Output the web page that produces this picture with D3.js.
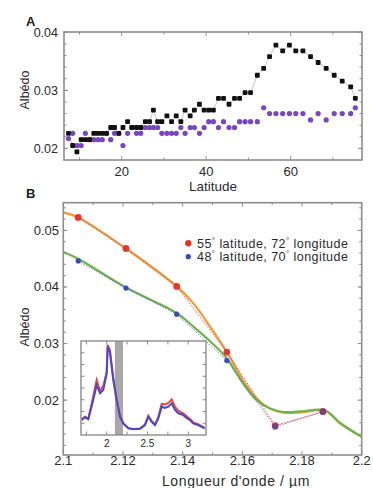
<!DOCTYPE html>
<html><head><meta charset="utf-8">
<script src="https://cdn.jsdelivr.net/npm/d3@7"></script>
<style>
body{margin:0;background:#fff;}
svg{display:block;font-family:"Liberation Sans",Arial,Helvetica,sans-serif;}
</style></head><body>
<svg id="c" width="373" height="488"></svg>
<script>
// ---------- Panel A data ----------
const latitudes = [7.4,8.4,9.4,10.4,11.4,12.4,13.4,14.4,15.4,16.4,17.4,18.3,19.3,20.3,21.4,22.4,23.5,24.5,25.6,26.6,27.5,28.5,29.5,30.7,31.8,32.9,34.0,35.0,36.2,37.2,38.4,39.5,40.6,41.7,42.9,44.1,45.4,46.7,47.9,49.2,50.5,52.1,53.6,55.0,56.5,58.1,59.7,61.2,62.9,64.7,66.5,68.4,70.3,72.2,74.2,75.3];
const albedoBlack = [.0226,.0205,.0194,.0215,.0215,.0215,.0226,.0226,.0226,.0226,.0236,.0236,.0226,.0236,.0246,.0236,.0236,.0236,.0246,.0246,.0266,.0246,.0246,.0256,.0246,.0256,.0246,.0266,.0256,.0266,.0276,.0266,.0266,.0266,.0286,.0286,.0276,.0286,.0286,.0296,.0296,.0326,.0338,.0358,.0378,.0368,.0378,.0368,.0368,.0358,.0348,.0338,.0326,.0316,.0306,.0286];
const albedoPurple = [.0217,.0226,.0205,.0205,.0226,.0215,.0215,.0215,.0215,.0226,.0215,.0226,.0226,.0205,.0226,.0236,.0226,.0226,.0236,.0236,.0236,.0236,.0226,.0226,.0226,.0226,.0236,.0226,.0236,.0236,.0226,.0236,.0246,.0246,.0236,.0246,.0236,.0236,.0246,.0246,.0246,.0246,.0270,.0260,.0260,.0260,.0260,.0260,.0260,.0249,.0260,.0249,.0260,.0260,.0260,.0270];
const latTicks = [20,40,60];
const albedoTicksA = [0.02,0.03,0.04];

// ---------- Panel B data ----------
const wavePts = [2.105,2.121,2.138,2.1548,2.171,2.187];
const red55 = [0.0523,0.0468,0.0401,0.0285,0.0155,0.0180];
const blue48 = [0.0446,0.0398,0.0352,0.0270,0.0153,0.0179];
const curveX = [2.1,2.105,2.121,2.138,2.1436,2.1492,2.1548,2.1603,2.1648,2.1693,2.1737,2.1793,2.1877,2.1927,2.2];
const orangeCurve = [0.0532,0.0523,0.0468,0.0401,0.0371,0.0330,0.0285,0.0235,0.0203,0.0185,0.0178,0.0178,0.0181,0.0159,0.0135];
const greenCurve = [0.0462,0.0450,0.0399,0.0354,0.0330,0.0304,0.0274,0.0229,0.0200,0.0185,0.0179,0.0180,0.0182,0.0160,0.0135];
const waveTicks = [2.1,2.12,2.14,2.16,2.18,2.2];
const albedoTicksB = [0.02,0.03,0.04,0.05];
const legendLabels = [["55","latitude, 72","longitude"],["48","latitude, 70","longitude"]];

// ---------- Inset data ----------
const insetX = [1.694,1.734,1.774,1.82,1.877,1.918,1.958,2.0,2.012,2.04,2.081,2.122,2.163,2.203,2.265,2.326,2.408,2.469,2.51,2.551,2.592,2.632,2.674,2.714,2.755,2.796,2.837,2.877,2.938,2.98,3.02,3.06,3.12,3.2];
const insetBlue = [16,18.8,16.7,32,53,44.4,47.9,65.6,94,88,58.5,37.2,19.5,12.4,7.1,6.1,6.7,10.6,19.5,14.1,10.6,17.8,30.1,28.7,30.1,33.7,26.6,23.1,21.3,17.8,16,12.4,10.6,7.1];
const insetRed = [16.5,19.5,17.5,35,58.5,47,52,67,96,90,60,38,20,12.6,7.3,6.3,6.9,11,20.5,14.8,11.2,18.8,33,32.5,34,38,30,26,23,20,17,13.5,11.5,7.5];
const insetTicks = [2,2.5,3];

const svg = d3.select("#c");
const frameCol = "#8c8c8c", textCol = "#2a2a2a";

function boxAxes(g, x, y, opts){
  const [x0,x1] = x.range(), [y1,y0] = y.range();
  const tk = (vals, len, isX) => {
    vals.forEach(v=>{
      if(isX){
        const px = x(v);
        g.append("line").attr("x1",px).attr("x2",px).attr("y1",y1).attr("y2",y1-len).attr("stroke",frameCol).attr("stroke-width",1);
        g.append("line").attr("x1",px).attr("x2",px).attr("y1",y0).attr("y2",y0+len).attr("stroke",frameCol).attr("stroke-width",1);
      } else {
        const py = y(v);
        g.append("line").attr("y1",py).attr("y2",py).attr("x1",x0).attr("x2",x0+len).attr("stroke",frameCol).attr("stroke-width",1);
        g.append("line").attr("y1",py).attr("y2",py).attr("x1",x1).attr("x2",x1-len).attr("stroke",frameCol).attr("stroke-width",1);
      }
    });
  };
  tk(opts.xMinor, opts.minLen, true);
  tk(opts.xMajor, opts.majLen, true);
  tk(opts.yMinor, opts.minLen, false);
  tk(opts.yMajor, opts.majLen, false);
  g.append("rect").attr("x",x0).attr("y",y0).attr("width",x1-x0).attr("height",y1-y0)
    .attr("fill","none").attr("stroke",frameCol).attr("stroke-width",opts.frameW||1.6);
}

function range(a,b,s){const r=[];for(let v=a;v<=b+1e-9;v+=s)r.push(+v.toFixed(6));return r;}

// ================= Panel A =================
const xA = d3.scaleLinear().domain([6.34,76.88]).range([64,362]);
const yA = d3.scaleLinear().domain([0.018,0.04005]).range([160,32]);
const gA = svg.append("g");
gA.append("path").datum(latitudes.map((l,i)=>[l,albedoBlack[i]]))
  .attr("d", d3.line().x(d=>xA(d[0])).y(d=>yA(d[1])))
  .attr("fill","none").attr("stroke","#b5b5b5").attr("stroke-width",0.8);
gA.selectAll("circle.p").data(latitudes.map((l,i)=>[l,albedoPurple[i]])).enter()
  .append("circle").attr("cx",d=>xA(d[0])).attr("cy",d=>yA(d[1])).attr("r",2.6).attr("fill","#7a45c2");
gA.selectAll("rect.b").data(latitudes.map((l,i)=>[l,albedoBlack[i]])).enter()
  .append("rect").attr("x",d=>xA(d[0])-2.4).attr("y",d=>yA(d[1])-2.4).attr("width",4.8).attr("height",4.8)
  .attr("rx",1).attr("fill","#111");
boxAxes(gA, xA, yA, {xMajor:latTicks, xMinor:[10,30,50,70], yMajor:albedoTicksA,
  yMinor:range(0.02,0.04,0.002), majLen:4, minLen:2.5});
albedoTicksA.forEach(v=>gA.append("text").attr("x",58).attr("y",yA(v)+4.5).attr("text-anchor","end")
  .attr("font-size",12.5).attr("fill",textCol).text(v.toFixed(2)));
latTicks.forEach(v=>gA.append("text").attr("x",xA(v)).attr("y",175.5).attr("text-anchor","middle")
  .attr("font-size",13).attr("fill",textCol).text(v));
gA.append("text").attr("x",213).attr("y",191).attr("text-anchor","middle").attr("font-size",13.5).attr("fill",textCol).text("Latitude");
gA.append("text").attr("transform","translate(29,90) rotate(-90)").attr("text-anchor","middle").attr("font-size",12.5).attr("fill",textCol).text("Albédo");
svg.append("text").attr("x",26).attr("y",26).attr("font-size",13).attr("font-weight","bold").attr("fill","#222").text("A");
svg.append("text").attr("x",26).attr("y",198).attr("font-size",13).attr("font-weight","bold").attr("fill","#222").text("B");

// ================= Panel B =================
const xB = d3.scaleLinear().domain([2.1,2.2]).range([63.3,361.7]);
const yB = d3.scaleLinear().domain([0.0103,0.0549]).range([455,202.7]);
const gB = svg.append("g");
const lineB = d3.line().x(d=>xB(d[0])).y(d=>yB(d[1]));
const smooth = d3.line().x(d=>xB(d[0])).y(d=>yB(d[1])).curve(d3.curveCatmullRom.alpha(0.5));
gB.append("path").datum(curveX.map((x,i)=>[x,orangeCurve[i]])).attr("d",smooth)
  .attr("fill","none").attr("stroke","#f59a32").attr("stroke-width",2.2);
gB.append("path").datum(curveX.map((x,i)=>[x,greenCurve[i]])).attr("d",smooth)
  .attr("fill","none").attr("stroke","#6cb64a").attr("stroke-width",2.2);
gB.append("path").datum(wavePts.map((x,i)=>[x,red55[i]])).attr("d",lineB)
  .attr("fill","none").attr("stroke","#e8453a").attr("stroke-width",0.9).attr("stroke-dasharray","1.5,1.5");
gB.append("path").datum(wavePts.map((x,i)=>[x,blue48[i]])).attr("d",lineB)
  .attr("fill","none").attr("stroke","#6a60d8").attr("stroke-width",0.9).attr("stroke-dasharray","1.5,1.5");
wavePts.forEach((x,i)=>gB.append("circle").attr("cx",xB(x)).attr("cy",yB(red55[i])).attr("r",3.4).attr("fill","#e8352c"));
wavePts.forEach((x,i)=>gB.append("circle").attr("cx",xB(x)).attr("cy",yB(blue48[i])).attr("r",i>=4?3.2:2.6).attr("fill","#3c46c0").attr("fill-opacity",i>=4?0.65:1));
boxAxes(gB, xB, yB, {xMajor:waveTicks, xMinor:range(2.11,2.19,0.02), yMajor:albedoTicksB,
  yMinor:range(0.012,0.054,0.002), majLen:4, minLen:2.5});
albedoTicksB.forEach(v=>gB.append("text").attr("x",59).attr("y",yB(v)+4.5).attr("text-anchor","end")
  .attr("font-size",13).attr("fill",textCol).text(v.toFixed(2)));
waveTicks.forEach(v=>gB.append("text").attr("x",xB(v)).attr("y",464.5).attr("text-anchor","middle")
  .attr("font-size",13).attr("fill",textCol).text(d3.format("")(+v.toFixed(2))));
gB.append("text").attr("x",236).attr("y",485.5).attr("text-anchor","middle").attr("font-size",14).attr("letter-spacing",0.6).attr("fill",textCol).text("Longueur d'onde / µm");
gB.append("text").attr("transform","translate(29,327) rotate(-90)").attr("text-anchor","middle").attr("font-size",12.5).attr("fill",textCol).text("Albédo");

// legend
const legCols = ["#e8352c","#3c46c0"];
legendLabels.forEach((l,i)=>{
  const ly = 243.3 + i*13.4;
  gB.append("circle").attr("cx",188.3).attr("cy",ly).attr("r",i?2.6:3.2).attr("fill",legCols[i]);
  const t = gB.append("text").attr("x",197).attr("y",ly+4.3).attr("font-size",12.5).attr("letter-spacing",0.45).attr("fill",textCol);
  t.append("tspan").text(l[0]);
  t.append("tspan").attr("font-size",8).attr("dy",-5).text("°");
  t.append("tspan").attr("dy",5).text(" "+l[1]);
  t.append("tspan").attr("font-size",8).attr("dy",-5).text("°");
  t.append("tspan").attr("dy",5).text(" "+l[2]);
});

// ================= Inset =================
const xI = d3.scaleLinear().domain([1.685,3.217]).range([81,206]);
const yI = d3.scaleLinear().domain([0,100]).range([435,341]);
const gI = svg.append("g");
gI.append("rect").attr("x",81).attr("y",341).attr("width",125).attr("height",94).attr("fill","#fff");
gI.append("rect").attr("x",xI(2.1)).attr("y",341).attr("width",xI(2.2)-xI(2.1)).attr("height",94).attr("fill","#a8a8a8");
const lineI = d3.line().x(d=>xI(d[0])).y(d=>yI(d[1]));
gI.append("path").datum(insetX.map((x,i)=>[x,insetRed[i]])).attr("d",lineI).attr("fill","none").attr("stroke","#e8453a").attr("stroke-width",2);
gI.append("path").datum(insetX.map((x,i)=>[x,insetBlue[i]])).attr("d",lineI).attr("fill","none").attr("stroke","#4a48d0").attr("stroke-width",2);
boxAxes(gI, xI, yI, {xMajor:insetTicks, xMinor:[1.75,2.25,2.75], yMajor:[], yMinor:range(12.5,87.5,12.5), majLen:3.5, minLen:3.5, frameW:1.4});
insetTicks.forEach(v=>gI.append("text").attr("x",xI(v)).attr("y",447).attr("text-anchor","middle")
  .attr("font-size",10).attr("fill",textCol).text(v));
</script>
</body></html>
